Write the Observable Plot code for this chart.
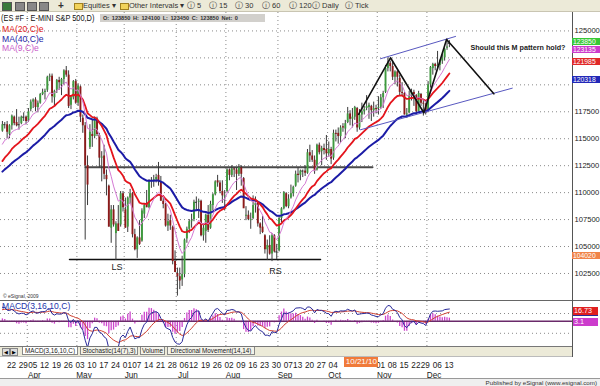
<!DOCTYPE html>
<html><head><meta charset="utf-8">
<script src="https://cdn.jsdelivr.net/npm/d3@7"></script>
<script src="https://cdn.jsdelivr.net/npm/@observablehq/plot@0.6"></script>
<style>
body{margin:0;background:#fff;font-family:"Liberation Sans",Arial,sans-serif;}
#root{position:relative;width:600px;height:386px;overflow:hidden;background:#fff;}
.abs{position:absolute;white-space:nowrap;}
svg{position:absolute;overflow:visible;}
</style></head><body><div id="root"></div>
<script>
// ---------- DATA ----------
const firstDay = "2010-03-17", lastDay = "2010-12-14";
const holidays = ["2010-04-02","2010-05-31","2010-07-05","2010-09-06","2010-11-25"];
const open = [1157,1163,1163, 1154,1162,1170,1165,1163, 1164,1170,1170,1167, 1177,1184,1186,1179,1183,
 1191,1193,1195,1207,1208, 1188,1195,1204,1200,1205, 1213,1209,1181,1188,1203, 1183,1198,1169,1162,1125,
 1142,1154,1152,1168,1153, 1132,1134,1116,1106,1067, 1084,1062,1071,1070,1099, 1084,1068,1095,1099,
 1061,1047,1058,1055,1080, 1090,1086,1110,1111,1112, 1116,1110,1092,1089,1069, 1074,1068,1036,1025,1022,
 1019,1024,1057,1066, 1073,1075,1091,1091,1092, 1060,1064,1079,1067,1088, 1098,1111,1109,1101,1096,
 1101,1121,1116,1122,1121, 1117,1123,1113,1078,1079, 1074,1076,1088,1090,1071, 1068,1060,1047,1051,1043,
 1060,1045,1046,1076,1085, 1099,1087,1095,1099, 1106,1117,1116,1120,1120, 1118,1137,1134,1130,1121,
 1144,1138,1141,1140,1136, 1140,1132,1155,1155,1152, 1161,1159,1165,1173,1168, 1170,1178,1160,1172,1175,
 1178,1179,1180,1176,1178, 1178,1179,1188,1193,1215, 1220,1217,1207,1212,1206, 1193,1192,1172,1174,1190,
 1193,1190,1175,1191, 1183,1182,1176,1200,1215, 1219,1217,1218,1222,1225, 1234,1238.5];
const high = [1166,1165,1166, 1163,1172,1171,1177,1170, 1171,1174,1171,1178, 1186,1187,1188,1185,1192,
 1196,1196,1208,1210,1210, 1195,1205,1207,1206,1214, 1217,1213,1190,1204,1205, 1201,1199,1172,1165,1134,
 1163,1168,1170,1170,1155, 1138,1144,1121,1107,1088, 1088,1073,1088,1101,1101, 1095,1096,1103,1100,
 1066,1059,1074,1085,1089, 1102,1112,1114,1116,1117, 1128,1115,1097,1090,1080, 1079,1069,1046,1030,1030,
 1041,1057,1068,1075, 1080,1093,1096,1094,1093, 1070,1080,1088,1092,1099, 1111,1116,1111,1111,1102,
 1122,1122,1125,1123,1123, 1126,1125,1114,1087,1083, 1081,1097,1096,1091,1072, 1078,1061,1056,1060,1062,
 1061,1052,1078,1086,1101, 1100,1098,1107,1106, 1120,1123,1121,1121,1125, 1140,1144,1139,1134,1145,
 1146,1143,1145,1153,1147, 1142,1158,1158,1160,1162, 1164,1167,1179,1176,1178, 1180,1179,1177,1183,1180,
 1190,1183,1181,1184,1181, 1189,1191,1194,1218,1225, 1222,1222,1213,1213,1209, 1202,1193,1178,1194,1196,
 1195,1191,1194,1192, 1186,1183,1203,1217,1220, 1220,1231,1223,1228,1234, 1243,1241];
const low = [1156,1159,1150, 1150,1158,1162,1161,1158, 1163,1166,1163,1165, 1175,1178,1175,1174,1182,
 1190,1186,1193,1203,1183, 1180,1192,1195,1190,1200, 1207,1178,1177,1186,1182, 1180,1165,1155,1056,1088,
 1140,1142,1150,1152,1123, 1110,1112,1097,1068,1053, 1068,1037,1064,1068,1082, 1067,1063,1089,1058,
 1046,1039,1051,1054,1076, 1086,1085,1104,1105,1109, 1106,1092,1085,1068,1064, 1065,1033,1026,1004,1010,
 1013,1021,1053,1062, 1067,1073,1083,1076,1059, 1055,1053,1063,1066,1083, 1097,1105,1099,1090,1083,
 1100,1111,1114,1114,1102, 1115,1106,1086,1074,1074, 1066,1075,1081,1068,1061, 1062,1043,1037,1042,1036,
 1044,1038,1045,1072,1084, 1086,1085,1094,1096, 1105,1109,1111,1114,1115, 1117,1128,1128,1117,1120,
 1135,1125,1135,1130,1133, 1126,1130,1147,1145,1146, 1156,1150,1164,1162,1160, 1167,1156,1158,1165,1172,
 1176,1168,1166,1170,1173, 1172,1177,1178,1192,1212, 1212,1204,1200,1198,1190, 1190,1172,1169,1173,1185,
 1180,1173,1175,1180, 1171,1172,1175,1197,1209, 1213,1215,1213,1219,1222, 1232,1234.5];
const close = [1163,1163,1156, 1162,1171,1164,1162,1163, 1170,1170,1166,1175, 1184,1186,1179,1183,1191,
 1193,1194,1207,1208,1189, 1194,1204,1202,1205,1213, 1209,1180,1188,1203,1183, 1199,1170,1162,1125,1107,
 1156,1152,1168,1154,1132, 1133,1117,1112,1068,1084, 1070,1071,1064,1099,1086, 1067,1095,1099,1061,
 1047,1058,1052,1083,1088, 1086,1111,1111,1112,1114, 1110,1092,1089,1069,1073, 1069,1036,1026,1022,1018,
 1024,1056,1066,1073, 1074,1091,1091,1092,1060, 1067,1079,1065,1089,1098, 1110,1109,1101,1097,1097,
 1121,1116,1122,1121,1117, 1123,1117,1085,1079,1075, 1075,1088,1090,1071,1067, 1063,1047,1051,1043,1060,
 1045,1045,1076,1085,1100, 1087,1094,1099,1105, 1117,1116,1120,1120,1118, 1137,1134,1130,1120,1144,
 1137,1141,1139,1136,1140, 1131,1155,1154,1152,1160, 1160,1164,1173,1168,1170, 1179,1160,1172,1175,1177,
 1180,1181,1176,1178,1177, 1179,1188,1192,1215,1220, 1217,1207,1212,1207,1193, 1192,1172,1173,1190,1193,
 1191,1175,1192,1183, 1182,1174,1200,1216,1219, 1217,1218,1222,1225,1233, 1235,1238.5];
// closes before the visible window (Jan 4 - Mar 16 2010), used only to start the moving averages
const warmupClose = [1130,1133.5,1134,1138.5,1142,1144,1133,1142.5,1145.5,1133,1147,1135,1113.5,1089,1094,
 1089,1094.5,1081.5,1071,1086,1100,1094,1060,1063,1054,1067.5,1065,1075.5,1072.5,1092,1096.5,1103.5,1106,
 1105,1091.5,1102,1100,1101.5,1112.5,1115.5,1116,1120,1135.5,1135.5,1137.5,1142.5,1147,1147,1147.5,1156.5];

const yTicks = [1025,1050,1075,1100,1125,1150,1175,1200,1225,1250];          // grid levels
const yTickLabels = ["102500","105000","107500","110000","112500","115000","117500","","","125000"]; // 120000/122500 sit under the value flags
const weekStarts = ["2010-03-22","2010-03-29","2010-04-05","2010-04-12","2010-04-19","2010-04-26","2010-05-03",
 "2010-05-10","2010-05-17","2010-05-24","2010-06-01","2010-06-07","2010-06-14","2010-06-21","2010-06-28",
 "2010-07-06","2010-07-12","2010-07-19","2010-07-26","2010-08-02","2010-08-09","2010-08-16","2010-08-23",
 "2010-08-30","2010-09-07","2010-09-13","2010-09-20","2010-09-27","2010-10-04","2010-11-01","2010-11-08",
 "2010-11-15","2010-11-22","2010-11-29","2010-12-06","2010-12-13"];
const weekLabels = ["22","29","05","12","19","26","03","10","17","24","01","07","14","21","28","06","12","19",
 "26","02","09","16","23","30","07","13","20","27","04","01","08","15","22","29","06","13"];
const monthStarts = ["2010-04-01","2010-05-03","2010-06-01","2010-07-01","2010-08-02","2010-09-01","2010-10-01","2010-11-01","2010-12-01"];
const monthLabels = ["Apr","May","Jun","Jul","Aug","Sep","Oct","Nov","Dec"];
const cursorDate = "2010-10-21", cursorLabel = "10/21/10";
// price flags on the right axis (value, text, colour)
const flagValues = [1238.50, 1231.35, 1219.85, 1203.18, 1040.20];
const flagTexts = ["123850","123135","121985","120318","104020"];
const flagColors = ["#36c836","#cc3ccc","#e02828","#2228b8","#f08448"];
const macdFlagValues = [16.73, 3.1];
const macdFlagTexts = ["16.73","3.1"];
const macdFlagColors = ["#e02020","#cc3ccc"];
// drawn annotations: [date index, price]
const neckHigh = [[35.1,1123.6],[156.5,1123.6]];
const neckLow = [[28.4,1038.0],[134.5,1038.0]];
const channelTop = [[159.9,1224.2],[191.6,1244.9]];
const channelBottom = [[151.4,1158.3],[215.6,1196.9]];
const mPattern = [[150.6,1172.6],[164.1,1225.1],[178.2,1174.1],[187.8,1242.1],[191.3,1233.4],[207.8,1191.7]];
const notes = [{i:48.5,v:1030.8,t:"LS"},{i:115.5,v:1027.1,t:"RS"}];
const question = {i:197.9, v:1234.0, t:"Should this M pattern hold?"};

// ---------- DERIVED ----------
const dates = [];
for (let t = new Date(firstDay+"T00:00:00Z"); t <= new Date(lastDay+"T00:00:00Z"); t = new Date(t.getTime()+864e5)) {
  const s = t.toISOString().slice(0,10), wd = t.getUTCDay();
  if (wd !== 0 && wd !== 6 && !holidays.includes(s)) dates.push(s);
}
const idx = new Map(dates.map((d,i)=>[d,i]));
const bars = dates.map((d,i)=>({i, d, o:open[i], h:high[i], l:low[i], c:close[i], up:close[i]>=open[i]}));
function ema(a,n){const k=2/(n+1);let e=a[0];return a.map((v,j)=>(e=j?k*v+(1-k)*e:v));}
const allC = warmupClose.concat(close), W = warmupClose.length;
const ma9 = ema(allC,9).slice(W), ma20 = ema(allC,20).slice(W), ma40 = ema(allC,40).slice(W);
const e3 = ema(allC,3), e16 = ema(allC,16);
const macdAll = e3.map((v,j)=>v-e16[j]);
const sigAll = ema(macdAll,10);
const macd = bars.map((b,i)=>({i, m:macdAll[i+W], s:sigAll[i+W], h:macdAll[i+W]-sigAll[i+W]}));
const maRows = bars.map((b,i)=>({i, a:ma9[i], b:ma20[i], c:ma40[i]}));

// x geometry (bar index), shared by all panes
const xDomain = [-0.806, 241.06];
const monthIdx = monthStarts.map(d=>idx.get(d));
const gridIdx = monthIdx.map(i=>i-0.5);
const root = document.getElementById("root");
const FONT = "Liberation Sans, Arial, sans-serif";
function div(style, text){const e=document.createElement("div");e.className="abs";Object.assign(e.style,style);if(text!=null)e.textContent=text;root.appendChild(e);return e;}
function place(svg, top){svg.style.left="0px";svg.style.top=top+"px";root.appendChild(svg);return svg;}

// ---------- PRICE PANE ----------
const P_TOP = 12;
const grid = {stroke:"#8a8a8a", strokeOpacity:1, strokeDasharray:"1,3"};
const pricePlot = Plot.plot({
  width:600, height:289, marginLeft:0, marginRight:28, marginTop:0, marginBottom:0,
  x:{domain:xDomain, axis:null}, y:{domain:[999.0,1267.1], axis:null},
  style:{background:"transparent", fontFamily:FONT},
  marks:[
    Plot.gridX(gridIdx, grid),
    Plot.gridY(yTicks, grid),
    Plot.line(neckHigh, {x:d=>d[0], y:d=>d[1], stroke:"#4a4a4a", strokeWidth:2}),
    Plot.line(neckLow, {x:d=>d[0], y:d=>d[1], stroke:"#111", strokeWidth:1.6}),
    Plot.ruleX(bars, {x:"i", y1:"l", y2:"h", stroke:"#3a3a3a", strokeWidth:1}),
    Plot.ruleX(bars, {x:"i", y1:"o", y2:"c", stroke:d=>d.up?"#3e9a3e":"#8c1a1a", strokeWidth:1.9}),
    Plot.ruleY(bars.filter(d=>d.o===d.c), {y:"c", x1:d=>d.i-0.45, x2:d=>d.i+0.45, stroke:"#333"}),
    Plot.line(maRows, {x:"i", y:"c", stroke:"#1c1ca6", strokeWidth:2}),
    Plot.line(maRows, {x:"i", y:"b", stroke:"#e4141c", strokeWidth:1.8}),
    Plot.line(maRows, {x:"i", y:"a", stroke:"#d47ad4", strokeWidth:1}),
    Plot.line(channelTop, {x:d=>d[0], y:d=>d[1], stroke:"#5858c0", strokeWidth:1}),
    Plot.line(channelBottom, {x:d=>d[0], y:d=>d[1], stroke:"#5858c0", strokeWidth:1}),
    Plot.line(mPattern, {x:d=>d[0], y:d=>d[1], stroke:"#111", strokeWidth:1.6}),
    Plot.text(notes, {x:"i", y:"v", text:"t", fontSize:9, fill:"#222"}),
    Plot.text([question], {x:"i", y:"v", text:"t", fontSize:7.2, fontWeight:"bold", textAnchor:"start", fill:"#222"}),
    Plot.axisY(yTicks, {anchor:"right", tickSize:0, tickPadding:2, fontSize:7.6, fill:"#222", tickFormat:(d,j)=>yTickLabels[j]}),
    Plot.ruleX([xDomain[1]], {stroke:"#555", strokeWidth:1})
  ]
});
place(pricePlot, P_TOP);
const py = pricePlot.scale("y");
let prevBottom = -1e9;
flagValues.forEach((v,j)=>{
  let top = P_TOP + py.apply(v) - 4.5;
  if (top < prevBottom + 1) top = prevBottom + 1;
  prevBottom = top + 7;
  div({left:"572px", top:top+"px", width:"27px", height:"7px", overflow:"hidden", background:flagColors[j], color:"#fff", font:"6.8px "+FONT, lineHeight:"7px", paddingLeft:"1px"}, flagTexts[j]);
});

// ---------- MACD PANE ----------
const M_TOP = 301;
const macdPlot = Plot.plot({
  width:600, height:45, marginLeft:0, marginRight:28, marginTop:0, marginBottom:0,
  x:{domain:xDomain, axis:null}, y:{domain:[-42,33]}, clip:true,
  style:{background:"transparent", fontFamily:FONT},
  marks:[
    Plot.gridX(gridIdx, grid),
    Plot.gridY([13,-20], grid),
    Plot.ruleX(macd, {x:"i", y1:0, y2:"h", stroke:"#cc44cc", strokeWidth:1.3}),
    Plot.ruleY([0], {stroke:"#6a2a6a", strokeWidth:1.6}),
    Plot.line(macd, {x:"i", y:"s", stroke:"#d04030", strokeWidth:1}),
    Plot.line(macd, {x:"i", y:"m", stroke:"#2a2a9a", strokeWidth:1}),
    Plot.ruleX([xDomain[1]], {stroke:"#555", strokeWidth:1, clip:false})
  ]
});
macdPlot.querySelectorAll("[aria-label='y-axis tick'],[aria-label='y-axis tick label']").forEach(e=>e.remove());
place(macdPlot, M_TOP);
const my = macdPlot.scale("y");
macdFlagValues.forEach((v,j)=>div({left:"572px", top:(M_TOP+my.apply(v)-4+(j?3:0))+"px", width:"24px", height:"8px", overflow:"hidden", background:macdFlagColors[j], color:"#fff", font:"7.2px "+FONT, lineHeight:"8px", paddingLeft:"2px", borderBottom:j?"none":"1px solid #2a2a9a"}, macdFlagTexts[j]));

// ---------- DATE AXIS ----------
const A_TOP = 356;
const weekRows = weekStarts.map((d,j)=>({i:idx.get(d), t:weekLabels[j]}));
const monthRows = monthStarts.map((d,j)=>({i:idx.get(d)+2.5, t:monthLabels[j]}));
const axisPlot = Plot.plot({
  width:600, height:22, marginLeft:0, marginRight:28, marginTop:0, marginBottom:0,
  x:{domain:xDomain, axis:null},
  style:{background:"transparent", fontFamily:FONT},
  marks:[
    Plot.text(weekRows, {x:"i", text:"t", frameAnchor:"top", dy:6, dx:2, fontSize:8.2, fill:"#222"}),
    Plot.text(monthRows, {x:"i", text:"t", frameAnchor:"top", dy:16, fontSize:8.2, fill:"#222"})
  ]
});
place(axisPlot, A_TOP);
const ax = axisPlot.scale("x");
const cx = ax.apply(idx.get(cursorDate));
div({left:(cx-17)+"px", top:(A_TOP+1)+"px", width:"34px", height:"10px", background:"#f07a3a", color:"#fff", font:"8px "+FONT, lineHeight:"10px", textAlign:"center"}, cursorLabel);

// ---------- CHROME: toolbar, header, legends, tabs, footer ----------
div({left:"0px", top:"0px", width:"600px", height:"11px", background:"#ecead8", borderBottom:"1px solid #c9c5b2"});
const tb = [[2,"icon","#3a7a3a"],[15,"icon","#888"],[27,"icon","#888"],[39,"icon","#888"],[58,"txt","+"],
 [74,"fold"],[83,"txt","Equities  ▾"],[120,"fold"],[129,"txt","Other Intervals  ▾"],
 [187,"txt","ⓘ 5"],[209,"txt","ⓘ 15"],[235,"txt","ⓘ 30"],[262,"txt","ⓘ 60"],[289,"txt","ⓘ 120"],
 [312,"txt","ⓘ Daily"],[345,"txt","ⓘ Tick"]];
tb.forEach(([x,k,v])=>{
  if(k==="icon") div({left:x+"px", top:"2px", width:"8px", height:"7px", background:v, border:"1px solid #555"});
  else if(k==="fold") div({left:x+"px", top:"3px", width:"7px", height:"5px", background:"#f2d35a", border:"1px solid #a08020"});
  else div({left:x+"px", top:"1px", font:(v==="+"?"bold 10px ":"7.5px ")+FONT, color:"#333", lineHeight:"10px"}, v);
});
div({left:"1px", top:"13px", font:"9px "+FONT, color:"#111", lineHeight:"10px", transform:"scaleX(0.82)", transformOrigin:"0 0"}, "(ES #F - E-MINI S&P 500,D)");
div({left:"100px", top:"14px", width:"162px", height:"8px", background:"#d2d0cc", font:"bold 5.6px "+FONT, color:"#333", lineHeight:"8px", paddingLeft:"3px", wordSpacing:"1px"}, "O: 123850    H: 124100    L: 123450    C: 123850    Net: 0");
[["MA(20,C)e","#e01818",24],["MA(40,C)e","#1c1ca6",34],["MA(9,C)e","#c85ac8",43]].forEach(([t,c,y])=>
  div({left:"2px", top:y+"px", font:"8.6px "+FONT, color:c, lineHeight:"10px"}, t));
div({left:"3px", top:"293px", font:"5px "+FONT, color:"#333"}, "© eSignal, 2009");
div({left:"0px", top:"300px", width:"600px", height:"1px", background:"#666"});
div({left:"2px", top:"301px", font:"8.6px "+FONT, color:"#2233aa", lineHeight:"10px"}, "MACD(3,16,10,C)");
// tab bar
div({left:"0px", top:"346px", width:"572px", height:"9px", background:"#ecead8", borderTop:"1px solid #777", borderBottom:"1px solid #bbb"});
div({left:"2px", top:"348px", width:"6px", height:"6px", background:"#ddd", border:"1px solid #888", font:"5px "+FONT, lineHeight:"6px", textAlign:"center"}, "◀");
div({left:"10px", top:"348px", width:"6px", height:"6px", background:"#ddd", border:"1px solid #888", font:"5px "+FONT, lineHeight:"6px", textAlign:"center"}, "▶");
[[22,56,"MACD(3,16,10,C)",true],[80,58,"Stochastic(14(7),3)",false],[140,25,"Volume",false],[167,88,"Directional Movement(14,14)",false]].forEach(([x,w,t,sel])=>
  div({left:x+"px", top:"347px", width:w+"px", height:"8px", boxSizing:"border-box", background:sel?"#fff":"#f4f3ea", border:"1px solid #888", borderTop:"none", font:"6.3px "+FONT, color:"#222", lineHeight:"8px", textAlign:"center", overflow:"hidden"}, t));
div({left:"572px", top:"300px", width:"1px", height:"57px", background:"#555"});
// footer
div({left:"0px", top:"378px", width:"600px", height:"8px", background:"#efefef", borderTop:"1px solid #999"});
div({right:"3px", top:"379px", font:"6.2px "+FONT, color:"#333", lineHeight:"7px"}, "Published by eSignal (www.esignal.com)");
</script></body></html>
